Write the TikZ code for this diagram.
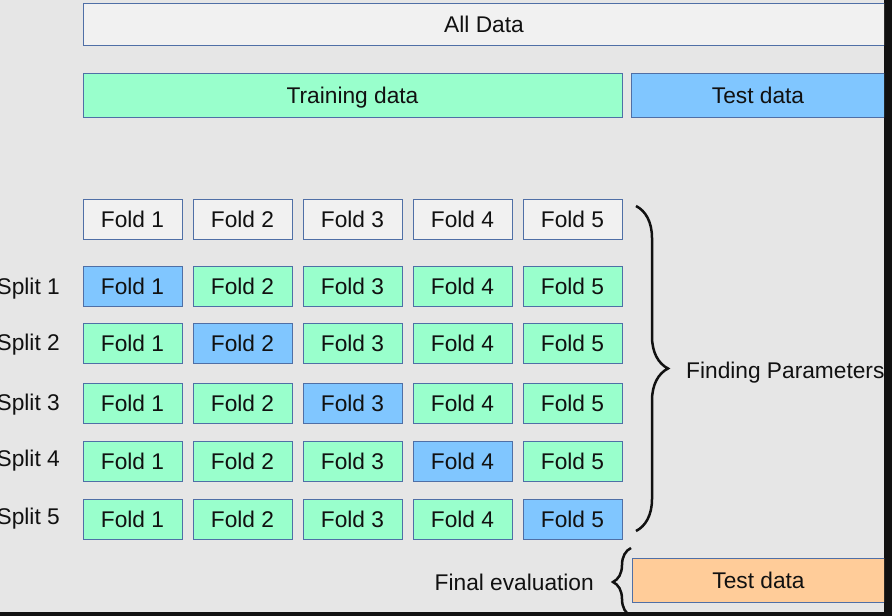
\documentclass[tikz,border=0pt]{standalone}
\usepackage{fontspec}
\setmainfont{Liberation Sans}
\usepackage{xcolor}
\usetikzlibrary{positioning,decorations.pathreplacing}
\definecolor{ink}{HTML}{111111}
\definecolor{edge}{HTML}{4F6FA6}
\definecolor{canvas}{HTML}{E6E6E6}
\definecolor{softgray}{HTML}{F1F1F1}
\definecolor{mint}{HTML}{99FFCC}
\definecolor{skyblue}{HTML}{80C6FF}
\definecolor{peach}{HTML}{FFCC99}

\begin{document}
\begin{tikzpicture}[
  x=1bp, y=-1bp,
  font=\fontsize{22.8}{27}\selectfont, text=ink,
  every node/.style={text height=16.4bp, text depth=0pt},
  box/.style={draw=edge, line width=0.8bp, inner sep=0pt, minimum height=40bp, minimum width=99bp},
  plainfold/.style={box, fill=softgray},
  trainfold/.style={box, fill=mint},
  testfold/.style={box, fill=skyblue},
  bar/.style={draw=edge, line width=0.8bp, inner sep=0pt, minimum height=44bp},
  splitlabel/.style={anchor=east, inner sep=0pt},
  curly/.style={decorate, line width=2.5bp, draw=ink}
]

\useasboundingbox (0,0) rectangle (892,616);
\fill[ink] (0,0) rectangle (892,616);
\fill[canvas] (0,0) rectangle (884,612);
\clip (0,0) rectangle (884,612);

\node[bar, fill=softgray, minimum height=42bp, minimum width=802bp] (all) at (484,24) {All Data};
\node[bar, fill=mint, minimum width=539bp] (train) at (352.5,95) {Training data};
\node[bar, fill=skyblue, minimum width=254bp] (test) at (758,95) {Test data};

% header row
\node[plainfold] (h1) at (132.5,219.5) {Fold 1};
\node[plainfold] (h2) at (242.5,219.5) {Fold 2};
\node[plainfold] (h3) at (352.5,219.5) {Fold 3};
\node[plainfold] (h4) at (462.5,219.5) {Fold 4};
\node[plainfold] (h5) at (572.5,219.5) {Fold 5};

% split 1
\node[splitlabel] (s1) at (60,286) {Split 1};
\node[testfold] (a1) at (132.5,286) {Fold 1};
\node[trainfold] (a2) at (242.5,286) {Fold 2};
\node[trainfold] (a3) at (352.5,286) {Fold 3};
\node[trainfold] (a4) at (462.5,286) {Fold 4};
\node[trainfold] (a5) at (572.5,286) {Fold 5};

% split 2
\node[splitlabel] (s2) at (60,342) {Split 2};
\node[trainfold] (b1) at (132.5,343) {Fold 1};
\node[testfold] (b2) at (242.5,343) {Fold 2};
\node[trainfold] (b3) at (352.5,343) {Fold 3};
\node[trainfold] (b4) at (462.5,343) {Fold 4};
\node[trainfold] (b5) at (572.5,343) {Fold 5};

% split 3
\node[splitlabel] (s3) at (60,402) {Split 3};
\node[trainfold] (c1) at (132.5,403.5) {Fold 1};
\node[trainfold] (c2) at (242.5,403.5) {Fold 2};
\node[testfold] (c3) at (352.5,403.5) {Fold 3};
\node[trainfold] (c4) at (462.5,403.5) {Fold 4};
\node[trainfold] (c5) at (572.5,403.5) {Fold 5};

% split 4
\node[splitlabel] (s4) at (60,458) {Split 4};
\node[trainfold] (d1) at (132.5,461) {Fold 1};
\node[trainfold] (d2) at (242.5,461) {Fold 2};
\node[trainfold] (d3) at (352.5,461) {Fold 3};
\node[testfold] (d4) at (462.5,461) {Fold 4};
\node[trainfold] (d5) at (572.5,461) {Fold 5};

% split 5
\node[splitlabel] (s5) at (60,516) {Split 5};
\node[trainfold] (e1) at (132.5,519) {Fold 1};
\node[trainfold] (e2) at (242.5,519) {Fold 2};
\node[trainfold] (e3) at (352.5,519) {Fold 3};
\node[trainfold] (e4) at (462.5,519) {Fold 4};
\node[testfold] (e5) at (572.5,519) {Fold 5};

% braces
\coordinate (ptop) at (636,206);
\coordinate (pbot) at (636,531);
\draw[curly, decoration={brace, amplitude=32bp}] (ptop) -- (pbot);
\node[anchor=west, inner sep=0pt] (find) at (686,370) {Finding Parameters};

\node[bar, fill=peach, minimum width=253bp] (final) at (758.5,580) {Test data};
\coordinate (ftop) at (631,548);
\coordinate (fbot) at (631,616);
\draw[curly, decoration={brace, amplitude=18bp}] (fbot) -- (ftop);
\node[anchor=east, inner sep=0pt] (eval) at (594,582) {Final evaluation};

\end{tikzpicture}
\end{document}
